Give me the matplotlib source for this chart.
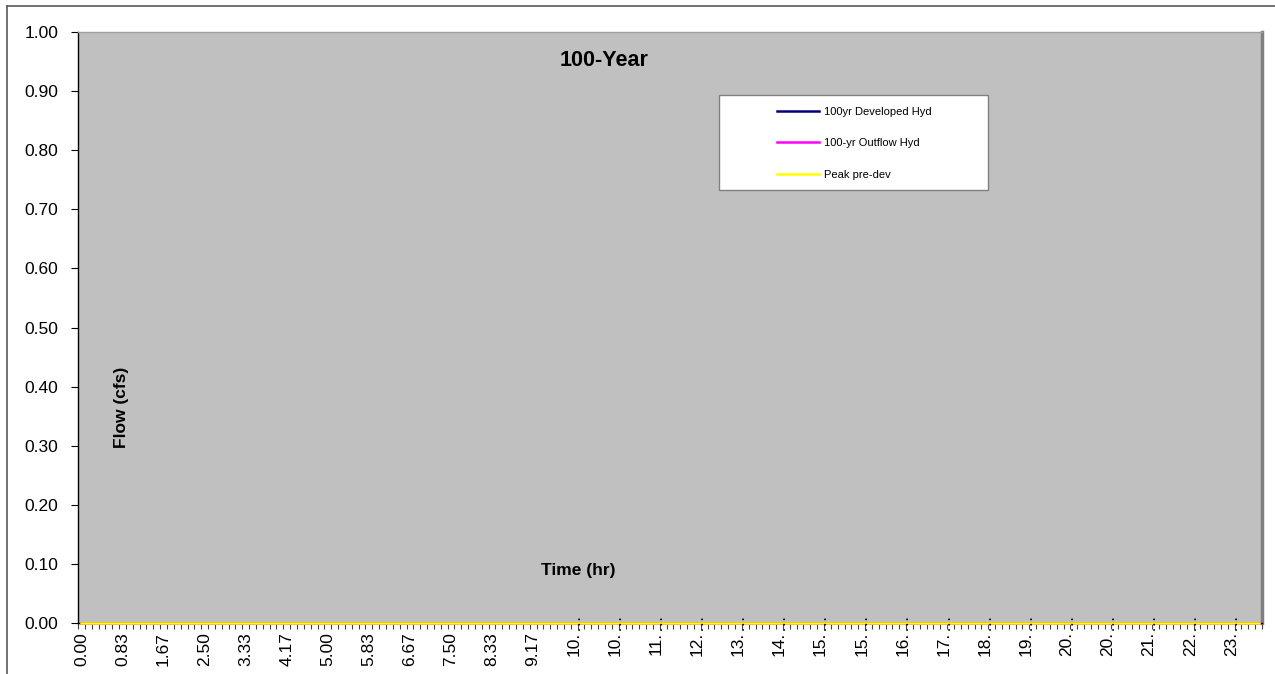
import numpy as np
import matplotlib
matplotlib.use('Agg')
import matplotlib.pyplot as plt
from matplotlib.patches import Rectangle
from matplotlib.lines import Line2D

plt.rcParams['font.family'] = ['Liberation Sans', 'DejaVu Sans']

# category axis: one category per time step, a label every 6th step
n_points = 173
time_labels = ['0.00', '0.83', '1.67', '2.50', '3.33', '4.17', '5.00', '5.83',
               '6.67', '7.50', '8.33', '9.17', '10.00', '10.83', '11.67', '12.50',
               '13.33', '14.17', '15.00', '15.83', '16.67', '17.50', '18.33',
               '19.17', '20.00', '20.83', '21.67', '22.50', '23.33']
label_step = 6

# all three hydrographs sit at zero in the picture
developed_hyd = [0.0] * n_points
outflow_hyd = [0.0] * n_points
peak_predev = [0.0] * n_points
series_names = ['100yr Developed Hyd', '100-yr Outflow Hyd', 'Peak pre-dev']
series_colors = ['#000080', '#FF00FF', '#FFFF00']

y_ticks = [0.0, 0.1, 0.2, 0.3, 0.4, 0.5, 0.6, 0.7, 0.8, 0.9, 1.0]

W, H = 1275, 674
fig = plt.figure(figsize=(W / 100, H / 100), dpi=100)
ax = fig.add_axes([78 / W, 51 / H, 1184 / W, 591 / H])
ax.set_facecolor('#C0C0C0')

x = np.arange(n_points)
for vals, name, col in zip([developed_hyd, outflow_hyd, peak_predev], series_names, series_colors):
    ax.plot(x, vals, color=col, lw=1.8, label=name, clip_on=False, zorder=3)

ax.set_xlim(-0.5, n_points - 0.5)
ax.set_ylim(0, 1)

ax.set_yticks(y_ticks)
ax.set_yticklabels([f'{v:.2f}' for v in y_ticks])
ax.tick_params(axis='y', direction='out', length=5, width=0.8, pad=9, labelsize=12.5)

label_pos = x[::label_step]
ax.set_xticks(label_pos)
ax.set_xticklabels([t if len(t) <= 4 else t[:3] for t in time_labels],
                   rotation=90, va='top', ha='center')
ax.set_xticks(np.arange(-0.5, n_points, 1), minor=True)
ax.tick_params(axis='x', which='major', length=0, pad=6.5, labelsize=12.5)
ax.tick_params(axis='x', which='minor', direction='out', length=4, width=0.8, color='#404040')

# truncated labels get a vertical ellipsis like the original
for p, t in zip(label_pos, time_labels):
    if len(t) > 4:
        ax.annotate('\u2026', xy=(p, 0), xycoords=('data', 'axes fraction'),
                    xytext=(0, 1), textcoords='offset pixels', rotation=90,
                    ha='center', va='center', fontsize=12, annotation_clip=False)

for side in ['left', 'bottom']:
    ax.spines[side].set_color('black')
    ax.spines[side].set_linewidth(1)
ax.spines['top'].set_color('#A0A0A0')
ax.spines['top'].set_linewidth(1)
ax.spines['right'].set_color('#808080')
ax.spines['right'].set_linewidth(2.5)

ax.text(0.444, 0.9526, '100-Year', transform=ax.transAxes, ha='center', va='center',
        fontsize=15.5, fontweight='bold')
ax.set_xlabel('Time (hr)', fontsize=12.5, fontweight='bold', va='center')
ax.xaxis.set_label_coords(0.4223, 0.088)
ax.set_ylabel('Flow (cfs)', fontsize=12.5, fontweight='bold', va='center')
ax.yaxis.set_label_coords(0.037, 0.365)

# legend box
ax.add_patch(Rectangle((719 / W, 1 - 190 / H), 269 / W, 95 / H, transform=fig.transFigure,
                       facecolor='white', edgecolor='#808080', lw=1, zorder=4, clip_on=False))
ax.legend(loc='upper left', bbox_to_anchor=(771 / W, 1 - 101 / H), bbox_transform=fig.transFigure,
          frameon=False, borderpad=0, fontsize=8, handlelength=3.8, handletextpad=0.45,
          labelspacing=1.95)

# chart border
fig.add_artist(Line2D([7 / W, 7 / W], [0, 1 - 6 / H], color='#595959', lw=1.2))
fig.add_artist(Line2D([7 / W, 1], [1 - 6 / H, 1 - 6 / H], color='#595959', lw=1.2))

fig.savefig('out.png', dpi=100)
